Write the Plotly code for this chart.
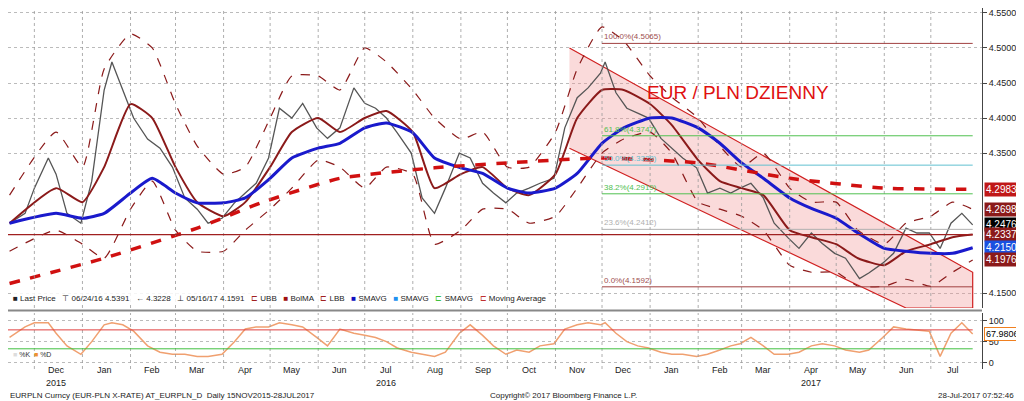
import plotly.graph_objects as go
import pandas as pd

dates = ["2015-11-15","2015-11-25","2015-12-01","2015-12-10","2015-12-15","2015-12-22","2015-12-31",
"2016-01-07","2016-01-15","2016-01-20","2016-01-27","2016-02-03","2016-02-12","2016-02-20","2016-02-28",
"2016-03-07","2016-03-15","2016-03-22","2016-03-31","2016-04-08","2016-04-15","2016-04-22","2016-04-30",
"2016-05-07","2016-05-15","2016-05-22","2016-05-31","2016-06-07","2016-06-15","2016-06-24","2016-07-01",
"2016-07-08","2016-07-15","2016-07-22","2016-07-31","2016-08-07","2016-08-15","2016-08-22","2016-08-31",
"2016-09-07","2016-09-15","2016-09-22","2016-09-30","2016-10-07","2016-10-15","2016-10-22","2016-10-31",
"2016-11-07","2016-11-15","2016-11-22","2016-11-30","2016-12-03","2016-12-10","2016-12-17","2016-12-24",
"2016-12-31","2017-01-08","2017-01-15","2017-01-22","2017-01-31","2017-02-07","2017-02-15","2017-02-22",
"2017-02-28","2017-03-07","2017-03-15","2017-03-22","2017-03-31","2017-04-07","2017-04-15","2017-04-22",
"2017-04-30","2017-05-07","2017-05-16","2017-05-22","2017-05-31","2017-06-07","2017-06-15","2017-06-22",
"2017-06-30","2017-07-07","2017-07-14","2017-07-21","2017-07-28"]
price = [4.250,4.264,4.300,4.343,4.320,4.264,4.250,4.310,4.440,4.480,4.440,4.400,4.370,4.357,4.330,
4.286,4.270,4.250,4.257,4.279,4.293,4.307,4.343,4.414,4.400,4.421,4.386,4.371,4.386,4.443,4.421,
4.414,4.400,4.379,4.350,4.286,4.264,4.300,4.350,4.343,4.307,4.293,4.279,4.293,4.300,4.307,4.314,
4.386,4.429,4.443,4.464,4.480,4.436,4.414,4.407,4.400,4.371,4.357,4.343,4.329,4.293,4.300,4.293,
4.300,4.307,4.286,4.250,4.229,4.214,4.236,4.221,4.207,4.200,4.171,4.179,4.193,4.207,4.243,4.236,
4.236,4.214,4.250,4.264,4.2476]
stoch = [60,85,95,95,70,40,20,50,90,95,90,75,40,25,20,20,15,15,20,50,80,85,85,95,90,85,60,40,80,70,65,
60,50,35,25,20,15,25,70,90,65,40,20,30,25,40,45,80,90,95,90,95,70,50,40,35,25,20,20,15,20,30,40,
45,60,40,20,20,25,40,45,40,30,25,30,60,85,80,78,75,15,70,95,68]

ma_dates = ["2015-11-15","2015-12-15","2016-01-01","2016-01-15","2016-02-01","2016-02-15","2016-03-01",
"2016-03-15","2016-04-01","2016-04-15","2016-05-01","2016-05-15","2016-06-01","2016-06-15","2016-07-01",
"2016-07-15","2016-08-01","2016-08-15","2016-09-01","2016-09-15","2016-10-01","2016-10-15","2016-11-01",
"2016-11-15","2016-12-01","2016-12-15","2017-01-01","2017-01-15","2017-02-01","2017-02-15","2017-03-01",
"2017-03-15","2017-04-01","2017-04-15","2017-05-01","2017-05-15","2017-06-01","2017-06-15","2017-07-01",
"2017-07-15","2017-07-28"]
sma_blue = [4.250,4.264,4.257,4.264,4.293,4.314,4.293,4.279,4.279,4.286,4.314,4.343,4.357,4.364,4.386,
4.393,4.379,4.343,4.329,4.321,4.300,4.293,4.300,4.321,4.364,4.386,4.400,4.400,4.386,4.364,4.336,
4.314,4.286,4.271,4.257,4.236,4.214,4.210,4.207,4.207,4.215]
bb_mid = [4.25,4.30,4.28,4.33,4.42,4.40,4.33,4.28,4.26,4.28,4.33,4.38,4.40,4.38,4.40,4.41,4.38,4.30,4.32,
4.33,4.30,4.29,4.32,4.40,4.44,4.44,4.42,4.39,4.34,4.31,4.30,4.29,4.24,4.23,4.22,4.20,4.19,4.21,4.22,4.23,4.2337]
bb_up = [4.29,4.38,4.33,4.47,4.52,4.50,4.42,4.36,4.32,4.33,4.40,4.46,4.46,4.44,4.50,4.48,4.44,4.40,4.37,
4.38,4.33,4.33,4.38,4.47,4.53,4.51,4.46,4.43,4.40,4.36,4.33,4.35,4.30,4.28,4.28,4.24,4.22,4.25,4.26,4.28,4.2698]
bb_lo = [4.21,4.24,4.22,4.20,4.27,4.31,4.24,4.21,4.21,4.24,4.27,4.30,4.34,4.33,4.30,4.33,4.32,4.22,4.24,
4.27,4.27,4.25,4.26,4.30,4.35,4.37,4.38,4.35,4.28,4.27,4.26,4.24,4.19,4.18,4.18,4.16,4.16,4.17,4.16,4.18,4.1976]

ma200_dates = ["2015-11-15","2016-01-15","2016-03-15","2016-04-25","2016-06-15","2016-08-15","2016-10-01",
"2016-12-01","2017-02-01","2017-04-01","2017-06-01","2017-07-28"]
ma200 = [4.164,4.200,4.243,4.279,4.314,4.329,4.336,4.343,4.336,4.314,4.300,4.2983]

channel_dates = ["2016-11-10","2017-07-28","2017-07-28","2017-06-15","2016-11-10"]
channel_vals = [4.500,4.180,4.129,4.129,4.357]

fib_levels = [4.5065,4.3747,4.3328,4.2919,4.2412,4.1592]
fib_labels = ["100.0%(4.5065)","61.8%(4.3747)","50.0%(4.3328)","38.2%(4.2919)","23.6%(4.2412)","0.0%(4.1592)"]
fib_colors = ["#a04040","#50c050","#60c0d0","#50c050","#b0b0b0","#a04040"]

months = pd.date_range("2015-12-01","2017-07-01",freq="MS")
month_labels = [m.strftime("%b") for m in months]

fig = go.Figure()
X0, X1 = "2015-11-14", "2017-08-03"
SM = 0.5
fig.add_trace(go.Scatter(x=channel_dates, y=channel_vals, fill="toself", fillcolor="rgba(240,150,150,0.35)",
    line=dict(color="#d02020", width=1.2), mode="lines", hoverinfo="skip"))
fig.add_trace(go.Scatter(x=ma_dates, y=bb_up, line=dict(color="#8b1a1a", width=1.2, dash="dash", shape="spline", smoothing=SM), mode="lines"))
fig.add_trace(go.Scatter(x=ma_dates, y=bb_lo, line=dict(color="#8b1a1a", width=1.2, dash="dash", shape="spline", smoothing=SM), mode="lines"))
fig.add_trace(go.Scatter(x=dates, y=price, line=dict(color="#555555", width=1.3), mode="lines"))
fig.add_trace(go.Scatter(x=ma_dates, y=bb_mid, line=dict(color="#8b1a1a", width=2, shape="spline", smoothing=SM), mode="lines"))
fig.add_trace(go.Scatter(x=ma_dates, y=sma_blue, line=dict(color="#1a1acc", width=3, shape="spline", smoothing=SM), mode="lines"))
fig.add_trace(go.Scatter(x=ma200_dates, y=ma200, line=dict(color="#d01010", width=3.5, dash="dash", shape="spline", smoothing=SM), mode="lines"))
fig.add_trace(go.Scatter(x=dates, y=stoch, line=dict(color="#f0a070", width=1.5), mode="lines", xaxis="x2", yaxis="y2"))

shapes = []
for m in months:
    for yr in ("y", "y2"):
        shapes.append(dict(type="line", xref="x", yref=yr + " domain", x0=m, x1=m, y0=0, y1=1,
                           line=dict(color="#999", width=0.8, dash="dot")))
shapes.append(dict(type="line", xref="x", yref="y", x0=X0, x1="2017-07-28", y0=4.2337, y1=4.2337,
                   line=dict(color="#a02020", width=1.3)))
for lv, c in zip(fib_levels, fib_colors):
    shapes.append(dict(type="line", xref="x", yref="y", x0="2016-12-01", x1="2017-07-28", y0=lv, y1=lv,
                       line=dict(color=c, width=1)))
for lv, c in ((78, "#e04040"), (33, "#40c040")):
    shapes.append(dict(type="line", xref="x", yref="y2", x0=X0, x1="2017-07-28", y0=lv, y1=lv, line=dict(color=c, width=1)))
shapes.append(dict(type="line", xref="paper", yref="paper", x0=0, x1=1, y0=0.162, y1=0.162, line=dict(color="#888", width=2)))
fig.update_layout(shapes=shapes)

ann = []
for lv, lab, c in zip(fib_levels, fib_labels, fib_colors):
    ann.append(dict(x="2016-12-01", y=lv, text=lab, showarrow=False, xanchor="left", yanchor="bottom",
                    font=dict(size=8, color="#a05050" if c == "#a04040" else c)))
ann.append(dict(x=0.845, y=0.80, xref="paper", yref="paper", text="EUR / PLN DZIENNY", showarrow=False,
                font=dict(size=19, color="#e01010", family="Liberation Sans Narrow, Arial Narrow, sans-serif")))
boxes = [(4.2983,"#c01818"),(4.2698,"#8b1a1a"),(4.2476,"#000000"),(4.2337,"#8b1a1a"),(4.2150,"#1a50e0"),(4.1976,"#8b1a1a")]
for v, c in boxes:
    ann.append(dict(x=1.002, xref="paper", y=v, yref="y", text=f"{v:.4f}", showarrow=False, xanchor="left",
                    bgcolor=c, font=dict(size=10, color="white"), borderpad=1))
ann.append(dict(x=1.002, xref="paper", y=67.98, yref="y2", text="67.9806", showarrow=False, xanchor="left",
                bgcolor="white", bordercolor="#f08020", font=dict(size=9, color="black"), borderpad=1))
ann.append(dict(x=0.003, y=0.178, xref="paper", yref="paper", xanchor="left", showarrow=False,
    text="<b>■</b> Last Price   ⊤ 06/24/16 4.5391   ← 4.3228   ⊥ 05/16/17 4.1591   <span style='color:#a02020'>⊏</span> UBB   <span style='color:#a01010'>■</span> BolMA   <span style='color:#a02020'>⊏</span> LBB   <span style='color:#1010c0'>■</span> SMAVG   <span style='color:#2090f0'>■</span> SMAVG   <span style='color:#40c040'>⊏</span> SMAVG   <span style='color:#c03030'>⊏</span> Moving Average",
    font=dict(size=8, color="#222"), bgcolor="rgba(255,255,255,0.85)"))
ann.append(dict(x=0.003, y=0.025, xref="paper", yref="paper", xanchor="left", showarrow=False,
    text="<span style='color:#ddd'>■</span> %K  <span style='color:#f09030'>■</span> %D", font=dict(size=7, color="#333")))
for m, lab in zip(months, month_labels):
    ann.append(dict(x=m + pd.Timedelta(days=14), y=-0.022, xref="x", yref="paper", text=lab, showarrow=False,
                    font=dict(size=9, color="#222")))
for t, xd in (("2015", "2015-12-15"), ("2016", "2016-07-15"), ("2017", "2017-04-15")):
    ann.append(dict(x=xd, y=-0.058, xref="x", yref="paper", text=t, showarrow=False, font=dict(size=9, color="#222")))
ann += [
    dict(x=0, y=-0.092, xref="paper", yref="paper", xanchor="left", showarrow=False,
         text="EURPLN Curncy (EUR-PLN X-RATE) AT_EURPLN_D  Daily 15NOV2015-28JUL2017", font=dict(size=8, color="#222")),
    dict(x=0.57, y=-0.092, xref="paper", yref="paper", showarrow=False, text="Copyright© 2017 Bloomberg Finance L.P.",
         font=dict(size=8, color="#222")),
    dict(x=1.035, y=-0.092, xref="paper", yref="paper", xanchor="right", showarrow=False, text="28-Jul-2017 07:52:46",
         font=dict(size=8, color="#222")),
]

fig.update_layout(
    width=1024, height=401, margin=dict(l=0, r=50, t=0, b=40), paper_bgcolor="white", plot_bgcolor="white",
    showlegend=False, annotations=ann, font=dict(family="Liberation Sans, Arial, sans-serif"),
    xaxis=dict(range=[X0, X1], domain=[0, 1], anchor="y", showticklabels=False, showgrid=False, zeroline=False),
    xaxis2=dict(range=[X0, X1], domain=[0, 1], anchor="y2", matches="x", showticklabels=False,
                showgrid=False, ticks=""),
    yaxis=dict(domain=[0.169, 1], range=[4.129, 4.557], side="right", tickvals=[4.15, 4.35, 4.40, 4.45, 4.50, 4.55],
               tickformat=".4f", showgrid=True, gridcolor="#bbb", griddash="dot", ticks="outside", ticklen=4,
               tickfont=dict(size=9, color="#222"), showline=True, linecolor="#444", zeroline=False),
    yaxis2=dict(domain=[0, 0.155], range=[-15, 118], side="right", tickvals=[0, 50, 100], showgrid=True,
                gridcolor="#bbb", griddash="dot", ticks="outside", ticklen=4, tickfont=dict(size=9, color="#222"),
                showline=True, linecolor="#444", zeroline=False),
)
fig.write_html("out.html")
